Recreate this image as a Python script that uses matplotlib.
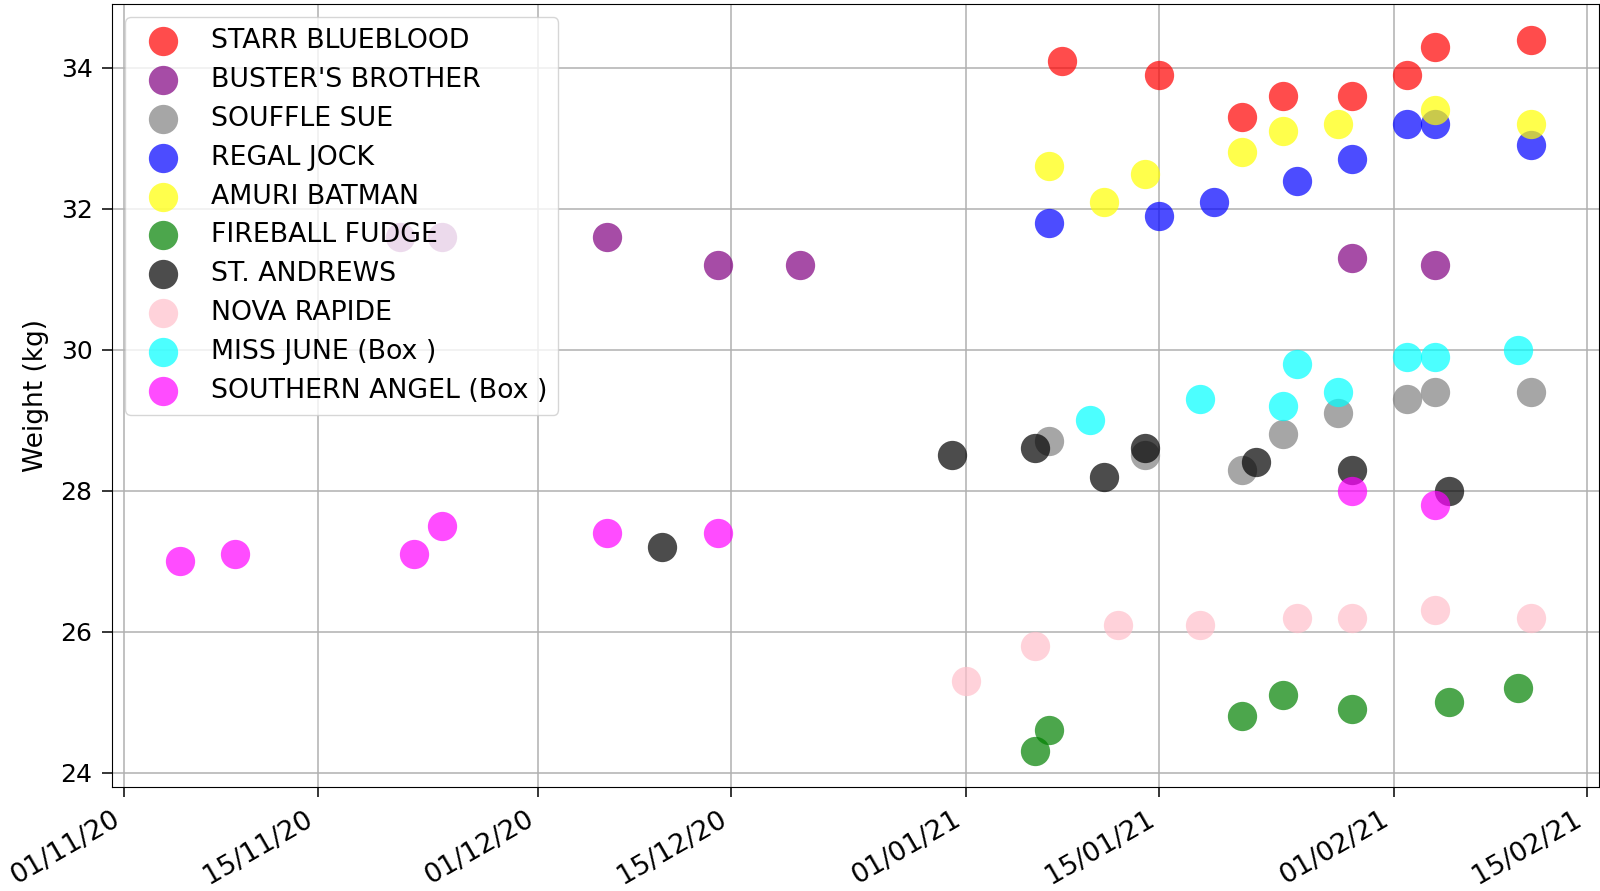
import matplotlib
matplotlib.use('Agg')
import matplotlib.pyplot as plt
import matplotlib.dates as mdates
import pandas as pd

plt.rcParams['font.family'] = ['DejaVu Sans']
plt.rcParams['font.size'] = 18

# 各犬の計測日と体重
starr_dates = ['2021-01-08', '2021-01-15', '2021-01-21', '2021-01-24', '2021-01-29', '2021-02-02', '2021-02-04', '2021-02-11']
starr_kg = [34.1, 33.9, 33.3, 33.6, 33.6, 33.9, 34.3, 34.4]

buster_dates = ['2020-11-21', '2020-11-24', '2020-12-06', '2020-12-14', '2020-12-20', '2021-01-29', '2021-02-04']
buster_kg = [31.6, 31.6, 31.6, 31.2, 31.2, 31.3, 31.2]

souffle_dates = ['2021-01-07', '2021-01-14', '2021-01-21', '2021-01-24', '2021-01-28', '2021-02-02', '2021-02-04', '2021-02-11']
souffle_kg = [28.7, 28.5, 28.3, 28.8, 29.1, 29.3, 29.4, 29.4]

regal_dates = ['2021-01-07', '2021-01-15', '2021-01-19', '2021-01-25', '2021-01-29', '2021-02-02', '2021-02-04', '2021-02-11']
regal_kg = [31.8, 31.9, 32.1, 32.4, 32.7, 33.2, 33.2, 32.9]

amuri_dates = ['2021-01-07', '2021-01-11', '2021-01-14', '2021-01-21', '2021-01-24', '2021-01-28', '2021-02-04', '2021-02-11']
amuri_kg = [32.6, 32.1, 32.5, 32.8, 33.1, 33.2, 33.4, 33.2]

fireball_dates = ['2021-01-06', '2021-01-07', '2021-01-21', '2021-01-24', '2021-01-29', '2021-02-05', '2021-02-10']
fireball_kg = [24.3, 24.6, 24.8, 25.1, 24.9, 25.0, 25.2]

andrews_dates = ['2020-12-10', '2020-12-31', '2021-01-06', '2021-01-11', '2021-01-14', '2021-01-22', '2021-01-29', '2021-02-05']
andrews_kg = [27.2, 28.5, 28.6, 28.2, 28.6, 28.4, 28.3, 28.0]

nova_dates = ['2021-01-01', '2021-01-06', '2021-01-12', '2021-01-18', '2021-01-25', '2021-01-29', '2021-02-04', '2021-02-11']
nova_kg = [25.3, 25.8, 26.1, 26.1, 26.2, 26.2, 26.3, 26.2]

june_dates = ['2021-01-10', '2021-01-18', '2021-01-24', '2021-01-25', '2021-01-28', '2021-02-02', '2021-02-04', '2021-02-10']
june_kg = [29.0, 29.3, 29.2, 29.8, 29.4, 29.9, 29.9, 30.0]

angel_dates = ['2020-11-05', '2020-11-09', '2020-11-22', '2020-11-24', '2020-12-06', '2020-12-14', '2021-01-29', '2021-02-04']
angel_kg = [27.0, 27.1, 27.1, 27.5, 27.4, 27.4, 28.0, 27.8]

names = ['STARR BLUEBLOOD', "BUSTER'S BROTHER", 'SOUFFLE SUE', 'REGAL JOCK', 'AMURI BATMAN',
         'FIREBALL FUDGE', 'ST. ANDREWS', 'NOVA RAPIDE', 'MISS JUNE (Box )', 'SOUTHERN ANGEL (Box )']
colors = ['red', 'purple', 'gray', 'blue', 'yellow', 'green', 'black', 'pink', 'cyan', 'magenta']
series = [(starr_dates, starr_kg), (buster_dates, buster_kg), (souffle_dates, souffle_kg),
          (regal_dates, regal_kg), (amuri_dates, amuri_kg), (fireball_dates, fireball_kg),
          (andrews_dates, andrews_kg), (nova_dates, nova_kg), (june_dates, june_kg),
          (angel_dates, angel_kg)]

fig = plt.figure(figsize=(16, 8.91), dpi=100)
ax = fig.add_axes([0.07, 0.1167, 0.9294, 0.8788])

for name, color, (d, kg) in zip(names, colors, series):
    ax.scatter(pd.to_datetime(d), kg, s=445, color=color, alpha=0.7, label=name, linewidths=0)

ax.set_ylabel('Weight (kg)', fontsize=19, labelpad=8)
ax.grid(True, color='#b0b0b0', linewidth=1.1)
ax.set_axisbelow(True)
ax.tick_params(length=7, width=1.1, pad=7)
ax.tick_params(axis='x', labelsize=19.5)
ax.xaxis.set_major_locator(mdates.DayLocator(bymonthday=[1, 15]))
ax.xaxis.set_major_formatter(mdates.DateFormatter('%d/%m/%y'))
for lbl in ax.get_xticklabels():
    lbl.set_rotation(30)
    lbl.set_ha('right')
ax.legend(loc='upper left', scatterpoints=1, fontsize=19.3, labelspacing=0.48)

fig.savefig('out.png', dpi=100)
